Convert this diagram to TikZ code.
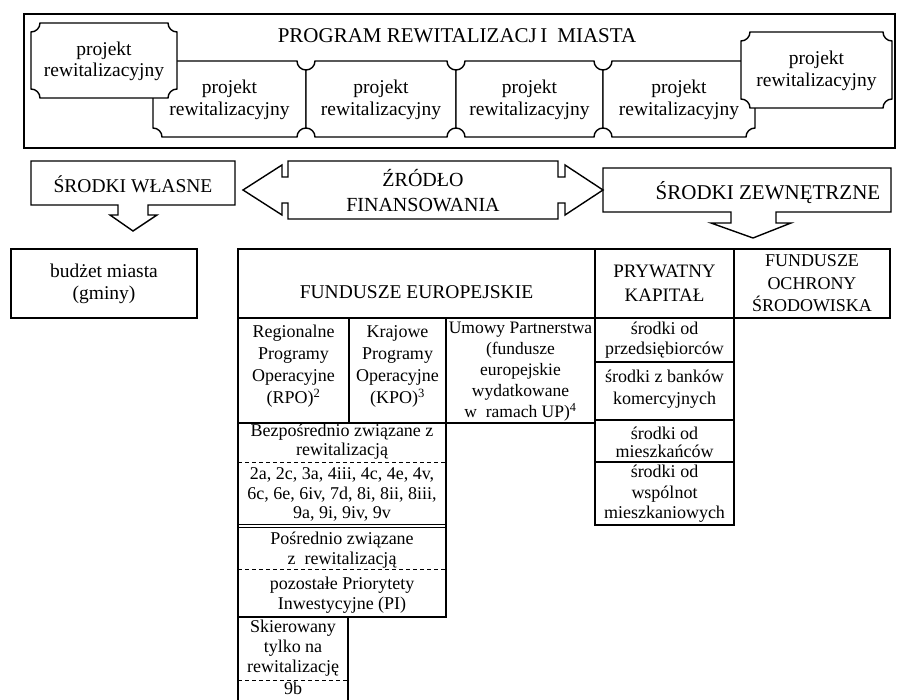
\documentclass[tikz,border=0pt]{standalone}
\usepackage{fontspec}
\setmainfont{Liberation Serif}

\newcommand{\fs}[2]{\fontsize{#1}{#2}\selectfont}
% concave-corner box: x1,y1,x2,y2 and node name
\newcommand{\projekt}[5]{%
  \draw[plaque] (#1+9,#2) -- (#3-9,#2) arc[start angle=180,end angle=270,radius=9pt]
    -- (#3,#4-9) arc[start angle=90,end angle=180,radius=9pt]
    -- (#1+9,#4) arc[start angle=0,end angle=90,radius=9pt]
    -- (#1,#2+9) arc[start angle=270,end angle=360,radius=9pt] -- cycle;
  \node[txt] (#5) at ({(#1+#3)/2},{(#2+#4)/2+16.5}) {projekt\\rewitalizacyjny};}

\begin{document}
\begin{tikzpicture}[x=1pt, y=-1pt,
    txt/.style={align=center, inner sep=0pt, anchor=base, font=\fs{19.5}{21.5}},
    small/.style={txt, font=\fs{18}{21}},
    plaque/.style={draw, fill=white, line width=1.4pt},
    callout/.style={draw, fill=white, line width=1.4pt, line join=miter},
    tab/.style={line width=1.8pt},
    sep/.style={line width=1pt, dash pattern=on 4pt off 3pt}]

    \useasboundingbox (0,0) rectangle (898,700);

    % program (texts placed by the baseline of their last line)
    \draw[line width=2.6pt] (24,14) rectangle (895,148);
    \node[txt, font=\fs{21}{24}] (program) at (457,43) {PROGRAM REWITALIZACJ\,I\hspace{10pt}MIASTA};
    \projekt{153}{61}{306}{137}{pr2}
    \projekt{306}{61}{456}{137}{pr3}
    \projekt{456}{61}{603}{137}{pr4}
    \projekt{603}{61}{755}{137}{pr5}
    \projekt{31}{23}{177}{98}{pr1}
    \projekt{741}{32}{892}{108}{pr6}

    % zrodla
    \draw[callout] (31,161) -- (235,161) -- (235,205) -- (148,205) -- (148,215) -- (157,215) -- (133,231)
        -- (110,215) -- (118,215) -- (118,205) -- (31,205) -- cycle;
    \node[txt] (wlasne) at (133,193) {ŚRODKI WŁASNE};
    \draw[callout] (603,168) -- (891,168) -- (891,212) -- (776,212) -- (776,223) -- (791,223) -- (753,238)
        -- (711,223) -- (731,223) -- (731,212) -- (603,212) -- cycle;
    \node[txt, font=\fs{21}{24}] (zewn) at (768,200) {ŚRODKI ZEWNĘTRZNE};
    \draw[callout] (288,161) -- (558,161) -- (558,177) -- (565,177) -- (565,165) -- (603,190) -- (565,215)
        -- (565,203) -- (558,203) -- (558,219) -- (288,219) -- (288,203) -- (282,203) -- (282,215)
        -- (243,190) -- (282,165) -- (282,177) -- (288,177) -- cycle;
    \node[txt, font=\fs{20}{25}] (zrodlo) at (423,212) {ŹRÓDŁO\\FINANSOWANIA};

    % budzet
    \draw[tab] (11,249) rectangle (197,318);
    \node[txt, font=\fs{19.5}{22}] (budzet) at (104,300) {budżet miasta\\(gminy)};

    % tabela
    \draw[tab] (238,249) rectangle (595,318);
    \draw[tab] (595,249) rectangle (734,318);
    \draw[tab] (734,249) rectangle (890,318);
    \draw[tab] (238,318) rectangle (349,423);
    \draw[tab] (349,318) rectangle (446,423);
    \draw[tab] (446,318) rectangle (595,423);
    \draw[tab] (595,318) rectangle (734,362);
    \draw[tab] (595,362) rectangle (734,420);
    \draw[tab] (595,420) rectangle (734,462);
    \draw[tab] (595,462) rectangle (734,525);
    \draw[tab] (238,423) rectangle (446,617);
    \draw[tab] (238,617) rectangle (348,703);
    \draw[sep] (238,463) -- (446,463);
    \draw[sep] (238,570) -- (446,570);
    \draw[sep] (238,680) -- (348,680);
    \draw[double, double distance=2.2pt, line width=0.9pt] (239,526) -- (445,526);

    \node[txt] (fe) at (416.5,299) {FUNDUSZE EUROPEJSKIE};
    \node[txt, font=\fs{19}{24}] (pk) at (664.5,302) {PRYWATNY\\KAPITAŁ};
    \node[small, font=\fs{18}{22.5}] (fos) at (812,312) {FUNDUSZE\\OCHRONY\\ŚRODOWISKA};
    \node[small, font=\fs{18}{22}] (rpo) at (293.5,404) {Regionalne\\Programy\\Operacyjne\\(RPO)\textsuperscript{2}};
    \node[small, font=\fs{18}{22}] (kpo) at (397.5,404) {Krajowe\\Programy\\Operacyjne\\(KPO)\textsuperscript{3}};
    \node[small, font=\fs{17.5}{21}] (up) at (520.5,418) {Umowy Partnerstwa\\(fundusze\\europejskie\\wydatkowane\\w\ \ ramach UP)\textsuperscript{4}};
    \node[small, font=\fs{18}{19.5}] (bezp) at (342,456) {Bezpośrednio związane z\\rewitalizacją};
    \node[small, font=\fs{18}{19.3}] (pi1) at (342,518.6) {2a, 2c, 3a, 4iii, 4c, 4e, 4v,\\6c, 6e, 6iv, 7d, 8i, 8ii, 8iii,\\9a, 9i, 9iv, 9v};
    \node[small, font=\fs{18}{20}] (posr) at (342,565) {Pośrednio związane\\z\ \ rewitalizacją};
    \node[small, font=\fs{18}{20}] (pi2) at (342,609.5) {pozostałe Priorytety\\Inwestycyjne (PI)};
    \node[small, font=\fs{18}{19.7}] (skier) at (293,695) {Skierowany\\tylko na\\rewitalizację\\[3pt]9b};
    \node[small, font=\fs{18}{20.5}] (p1) at (664.5,355) {środki od\\przedsiębiorców};
    \node[small, font=\fs{18}{22}] (p2) at (664.5,405) {środki z banków\\komercyjnych};
    \node[small, font=\fs{18}{17.5}] (p3) at (664.5,457.5) {środki od\\mieszkańców};
    \node[small, font=\fs{18}{20.5}] (p4) at (664.5,519) {środki od\\wspólnot\\mieszkaniowych};
\end{tikzpicture}
\end{document}
